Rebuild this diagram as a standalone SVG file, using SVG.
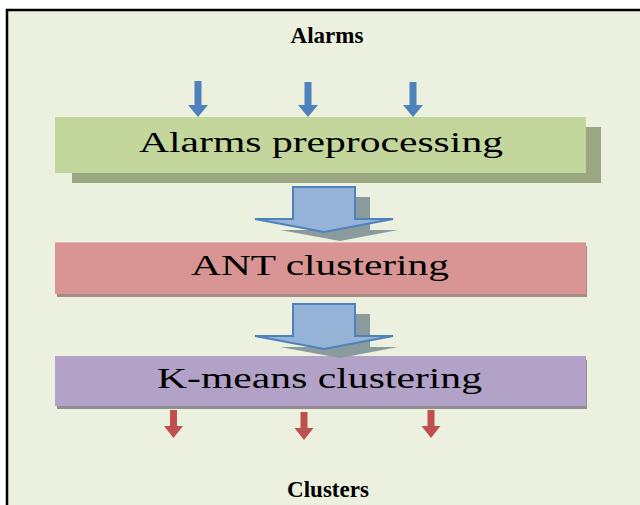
<svg xmlns="http://www.w3.org/2000/svg" width="640" height="505" viewBox="0 0 640 505">
<style>
.lbl{font-family:"Liberation Serif","Times New Roman",serif;fill:#000;}
.title{font-size:23px;font-weight:bold;}
.box{font-size:29px;}
.blue{fill:#4F81BD;}
.red{fill:#C0504D;}
.big{fill:#95B3D7;stroke:#4F81BD;stroke-width:2;stroke-linejoin:miter;}
.bigsh{fill:#8A9B9E;}
</style>
<rect x="0" y="0" width="640" height="505" fill="#FFFFFF"/>
<rect x="7" y="10" width="650" height="510" fill="#EBF1DE" stroke="#000" stroke-width="2.5"/>
<g id="title-alarms"><text class="lbl title" x="327" y="43" text-anchor="middle">Alarms</text></g>
<g id="node-preprocessing">
<rect x="72" y="127" width="529" height="56" fill="#9BA782"/>
<rect x="55" y="117" width="531" height="56" fill="#C3D69B"/>
<text class="lbl box" x="139" y="152" textLength="364" lengthAdjust="spacingAndGlyphs">Alarms preprocessing</text>
</g>
<g id="node-ant">
<rect x="57" y="246" width="530" height="51" fill="#A58A85"/>
<rect x="55" y="242" width="531" height="52" fill="#D99594"/>
<line x1="55" y1="242.5" x2="586" y2="242.5" stroke="#E8B8B7" stroke-width="1"/>
<text class="lbl box" x="191" y="275" textLength="258" lengthAdjust="spacingAndGlyphs">ANT clustering</text>
</g>
<g id="node-kmeans">
<rect x="57" y="360" width="530" height="49" fill="#8F8F8F"/>
<rect x="55" y="356" width="531" height="50" fill="#B2A2C7"/>
<text class="lbl box" x="157" y="388" textLength="325" lengthAdjust="spacingAndGlyphs">K-means clustering</text>
</g>
<g id="title-clusters"><text class="lbl title" x="328" y="497" text-anchor="middle">Clusters</text></g>
<g id="connectors">
<polygon class="blue" points="194.5,81 201.5,81 201.5,105 208,105 198,117 188,105 194.5,105"/>
<polygon class="blue" points="304.5,82 311.5,82 311.5,105 318,105 308,117 298,105 304.5,105"/>
<polygon class="blue" points="409.5,82 416.5,82 416.5,105 423,105 413,117 403,105 409.5,105"/>
<polygon class="bigsh" points="308,197 370,197 370,230 398,230 340,241 280,230 308,230"/>
<polygon class="big" points="293,187 355,187 355,219 393,219 324,232 255,219 293,219"/>
<polygon class="bigsh" points="308,314 370,314 370,347 398,347 340,358 280,347 308,347"/>
<polygon class="big" points="293,304 355,304 355,336 393,336 324,349 255,336 293,336"/>
<polygon class="red" points="170,410 177,410 177,426 183,426 173.5,438 164,426 170,426"/>
<polygon class="red" points="300.5,412 307.5,412 307.5,428 313.5,428 304,440 294.5,428 300.5,428"/>
<polygon class="red" points="427.5,410 434.5,410 434.5,426 440.5,426 431,438 421.5,426 427.5,426"/>
</g>
</svg>
